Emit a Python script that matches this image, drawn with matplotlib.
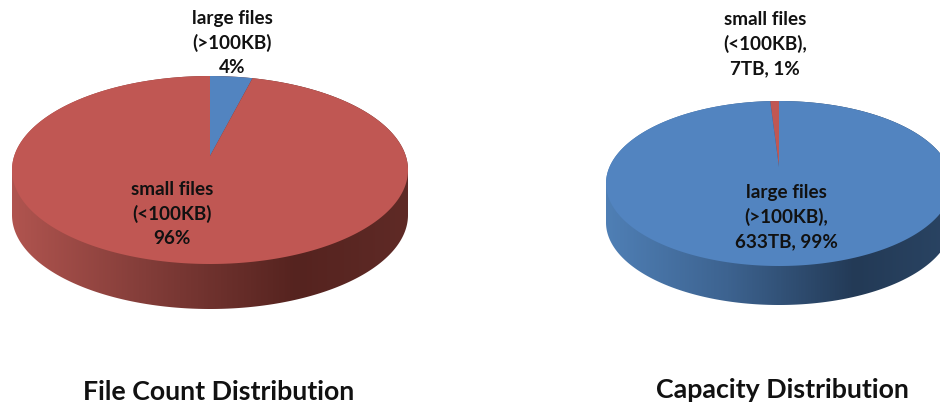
import numpy as np
import matplotlib
matplotlib.use("Agg")
import matplotlib.pyplot as plt
from matplotlib.colors import LinearSegmentedColormap
from matplotlib.patches import Polygon

plt.rcParams['font.family'] = ['Lato', 'DejaVu Sans']

count_shares = [4, 96]
count_labels = ["large files\n(>100KB)\n4%", "small files\n(<100KB)\n96%"]
capacity_shares = [1, 99]
capacity_labels = ["small files\n(<100KB),\n7TB, 1%", "large files\n(>100KB),\n633TB, 99%"]
titles = ["File Count Distribution", "Capacity Distribution"]

RED, BLUE = "#c05753", "#5284c0"
W, H = 940, 406
fig = plt.figure(figsize=(W / 100, H / 100), dpi=100, facecolor="white")
ax = fig.add_axes([0, 0, 1, 1])
ax.axis("off")


def draw_disc(shares, colors, clockwise, wall_stops, apex, top, bottom, half_w, depth):
    ax_x, ax_y = apex
    up, down = ax_y - top, bottom - ax_y
    b = (down - up) / (down + up)
    k = up * (1 + b)
    m = half_w * np.sqrt(1 - b * b)

    def project(xy):
        w = 1 + b * xy[:, 1]
        return np.column_stack([ax_x + m * xy[:, 0] / w, ax_y - k * xy[:, 1] / w])

    # side wall
    cy = (top + bottom) / 2
    ry = (bottom - top) / 2
    t = np.linspace(0, np.pi, 300)
    lower = np.column_stack([ax_x + half_w * np.cos(t), cy + ry * np.sin(t) + depth])
    upper = np.column_stack([ax_x - half_w * np.cos(t), cy - ry * np.sin(t)])
    outline = np.vstack([lower, upper])
    cmap = LinearSegmentedColormap.from_list("wall", wall_stops)
    im = ax.imshow(np.linspace(0, 1, 400)[None, :], cmap=cmap, aspect="auto", zorder=1,
                   extent=(ax_x - half_w, ax_x + half_w, bottom + depth + 2, top - 2))
    im.set_clip_path(Polygon(outline, closed=True, transform=ax.transData))

    # top face: the pie gives the slice angles, which are then tilted into perspective
    wedges, _ = ax.pie(shares, colors=colors, startangle=90, counterclock=not clockwise,
                       radius=1, center=(0, 0), frame=False)
    for wedge in wedges:
        wedge.set_visible(False)
        a = np.radians(np.linspace(wedge.theta1, wedge.theta2, 720))
        arc = np.column_stack([np.cos(a), np.sin(a)])
        verts = np.vstack([[[0.0, 0.0]], arc])
        ax.add_patch(Polygon(project(verts), closed=True, facecolor=wedge.get_facecolor(),
                             edgecolor="none", zorder=2))


draw_disc(count_shares, [BLUE, RED], True,
          [(0, "#b0544f"), (0.35, "#813c38"), (0.72, "#55231f"), (1, "#5f2a26")],
          apex=(210, 157), top=77, bottom=265, half_w=198, depth=45)
draw_disc(capacity_shares, [RED, BLUE], False,
          [(0, "#4f7fb5"), (0.35, "#3d6390"), (0.72, "#233a56"), (1, "#2a4463")],
          apex=(779, 168), top=102, bottom=267, half_w=173, depth=39)

ax.set_aspect("auto")
ax.set_xlim(0, W)
ax.set_ylim(H, 0)
ax.set_frame_on(False)

text_color = "#111111"
for (x, y), label in zip([(232, 43), (172, 214)], count_labels):
    ax.text(x, y, label, ha="center", va="center", fontsize=13.6, fontweight="bold",
            color=text_color, linespacing=1.5, zorder=3)
for (x, y), label in zip([(765, 44), (786, 217)], capacity_labels):
    ax.text(x, y, label, ha="center", va="center", fontsize=13.6, fontweight="bold",
            color=text_color, linespacing=1.5, zorder=3)
for x, y, title in zip([219, 782], [392, 390], titles):
    ax.text(x, y, title, ha="center", va="center", fontsize=19.3, fontweight="bold",
            color=text_color, zorder=3)

fig.savefig("out.png", dpi=100)
